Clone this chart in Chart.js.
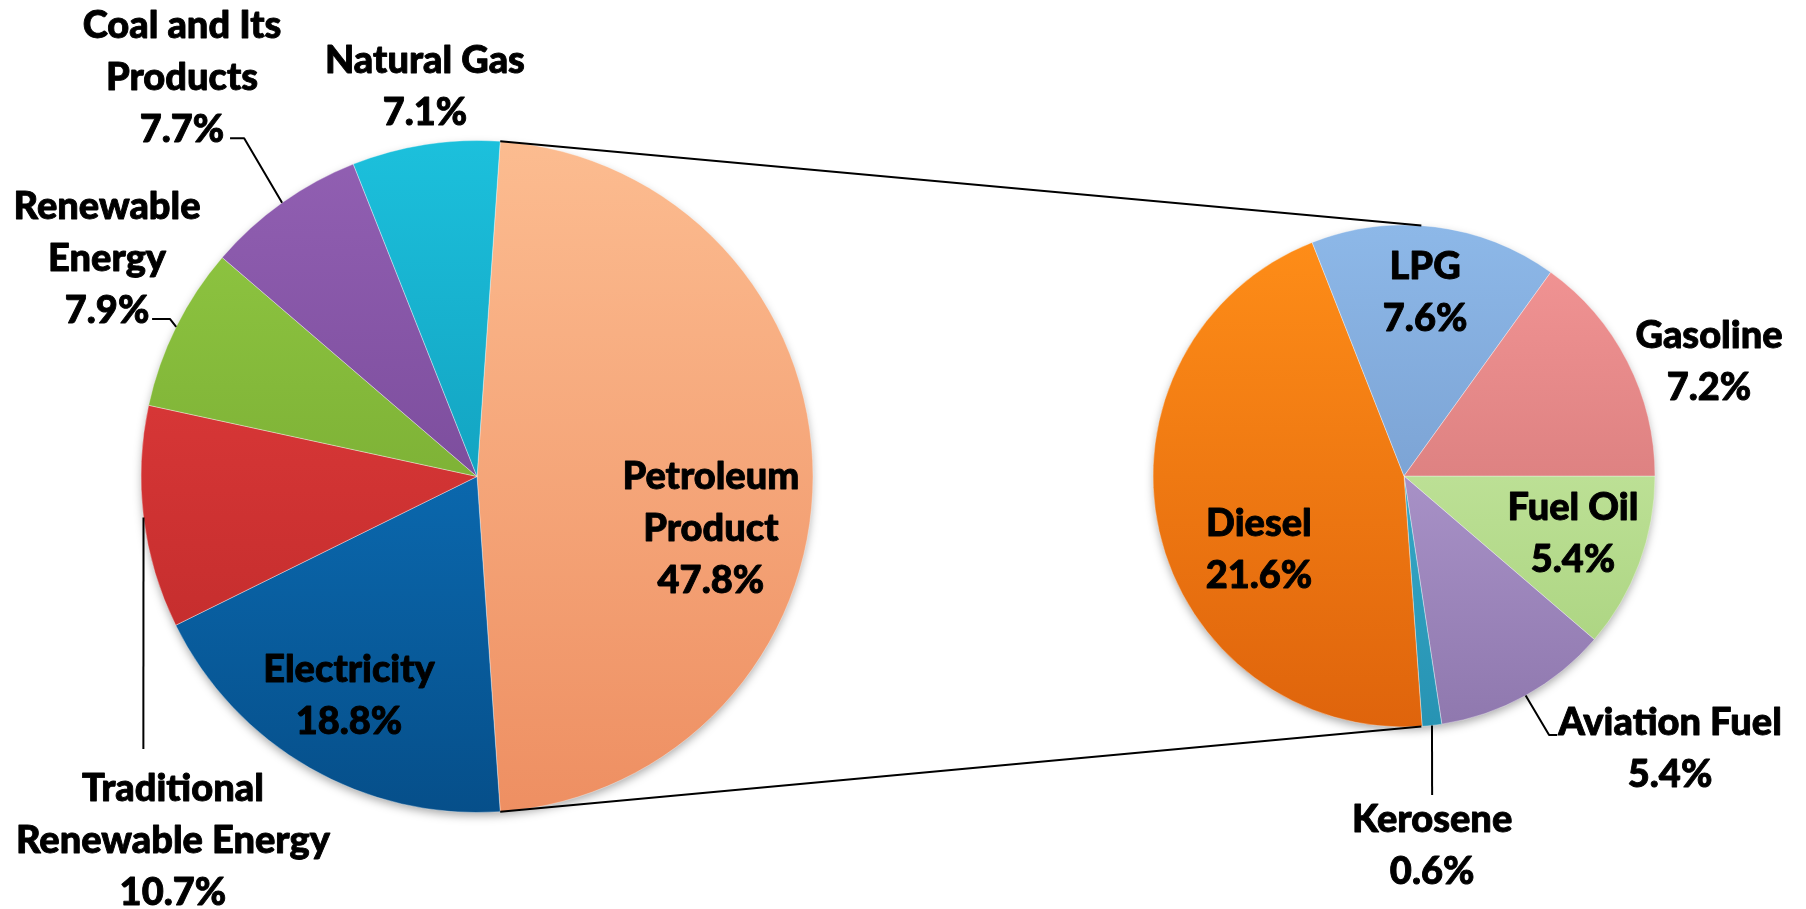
<!DOCTYPE html>
<html>
<head>
<meta charset="utf-8">
<script src="https://cdn.jsdelivr.net/npm/chart.js@4.4.1/dist/chart.umd.min.js"></script>
<style>
  html, body { margin: 0; padding: 0; background: #ffffff; }
  #wrap { position: relative; width: 1806px; height: 909px; }
  #wrap canvas { position: absolute; left: 0; top: 0; }
</style>
</head>
<body>
<div id="wrap">
  <canvas id="mainPie" width="1806" height="909"></canvas>
  <canvas id="subPie" width="1806" height="909"></canvas>
</div>
<script>
// ---------- DATA ----------
const mainCategories = [
  ['Petroleum', 'Product'],
  ['Electricity'],
  ['Traditional', 'Renewable Energy'],
  ['Renewable', 'Energy'],
  ['Coal and Its', 'Products'],
  ['Natural Gas']
];
const mainValues = [47.8, 18.8, 10.7, 7.9, 7.7, 7.1];

const subCategories = [
  ['Fuel Oil'],
  ['Aviation Fuel'],
  ['Kerosene'],
  ['Diesel'],
  ['LPG'],
  ['Gasoline']
];
const subValues = [5.4, 5.4, 0.6, 21.6, 7.6, 7.2];

// ---------- STYLE / LAYOUT ----------
const FONT = '900 38px Lato, "Open Sans", sans-serif';
const LINE_H = 52;

const mainColors = [
  ['#FCBC90', '#EE8F62'],
  ['#0F80D0', '#064F8A'],
  ['#EA4040', '#B82727'],
  ['#93CB44', '#6A9A29'],
  ['#9260B3', '#683C88'],
  ['#1CC0DC', '#0A88A8']
];
const subColors = [
  ['#D2F0B0', '#A6D07A'],
  ['#C0AADF', '#8F78AE'],
  ['#45BCD9', '#2793B3'],
  ['#FF8E18', '#DF640C'],
  ['#8DB8E8', '#6C90C2'],
  ['#F49696', '#C86E6E']
];

// label anchors, in units of the pie radius, relative to the pie centre
const mainLabelLayout = [
  { fx: 0.696, fy: 0.156 },
  { fx: -0.381, fy: 0.652 },
  { fx: -0.905, fy: 1.085, leader: [[-0.993, 0.811]] },
  { fx: -1.101, fy: -0.647, leader: [[-0.914, -0.469], [-0.967, -0.469]] },
  { fx: -0.878, fy: -1.186, leader: [[-0.693, -1.007], [-0.735, -1.007]] },
  { fx: -0.155, fy: -1.159 }
];
const subLabelLayout = [
  { fx: 0.673, fy: 0.229 },
  { fx: 1.060, fy: 1.088, leader: [[0.578, 1.032], [0.610, 1.032]] },
  { fx: 0.112, fy: 1.474, leader: [[0.112, 1.271]] },
  { fx: -0.578, fy: 0.295 },
  { fx: 0.084, fy: -0.729 },
  { fx: 1.215, fy: -0.454 }
];

const MAIN_RADIUS = 336;
const SUB_RADIUS = 251;

// ---------- HELPERS ----------
function gradientFill(colors) {
  return function (c) {
    const chart = c.chart;
    const area = chart.chartArea;
    const pair = colors[c.dataIndex % colors.length];
    if (!area) return pair[0];
    const cy = (area.top + area.bottom) / 2;
    const r = chart.options.radius;
    const g = chart.ctx.createLinearGradient(0, cy - r, 0, cy + r);
    g.addColorStop(0, pair[0]);
    g.addColorStop(1, pair[1]);
    return g;
  };
}

const shadowPlugin = {
  id: 'pieShadow',
  beforeDatasetsDraw(chart) {
    const arc = chart.getDatasetMeta(0).data[0];
    if (!arc) return;
    const ctx = chart.ctx;
    ctx.save();
    ctx.shadowColor = 'rgba(0,0,0,0.35)';
    ctx.shadowBlur = 10;
    ctx.shadowOffsetY = 4;
    ctx.beginPath();
    ctx.arc(arc.x, arc.y, arc.outerRadius - 1, 0, Math.PI * 2);
    ctx.fillStyle = '#ffffff';
    ctx.fill();
    ctx.restore();
  }
};

const labelPlugin = {
  id: 'sliceLabels',
  afterDatasetsDraw(chart, args, opts) {
    const meta = chart.getDatasetMeta(0);
    const ctx = chart.ctx;
    const labels = chart.data.labels;
    const values = chart.data.datasets[0].data;
    ctx.save();
    meta.data.forEach((arc, i) => {
      const L = opts.layout[i];
      const cx = arc.x, cy = arc.y, r = arc.outerRadius;
      if (L.leader) {
        const mid = (arc.startAngle + arc.endAngle) / 2;
        ctx.beginPath();
        ctx.moveTo(cx + Math.cos(mid) * r, cy + Math.sin(mid) * r);
        L.leader.forEach(p => ctx.lineTo(cx + p[0] * r, cy + p[1] * r));
        ctx.strokeStyle = '#000000';
        ctx.lineWidth = 2;
        ctx.stroke();
      }
      const lines = [].concat(labels[i], values[i].toFixed(1) + '%');
      const x = cx + L.fx * r;
      const y0 = cy + L.fy * r - (lines.length - 1) * LINE_H / 2;
      ctx.font = FONT;
      ctx.fillStyle = '#000000';
      ctx.strokeStyle = '#000000';
      ctx.lineWidth = 0.9;
      ctx.lineJoin = 'round';
      ctx.textAlign = 'center';
      ctx.textBaseline = 'middle';
      lines.forEach((t, k) => {
        ctx.fillText(t, x, y0 + k * LINE_H);
        ctx.strokeText(t, x, y0 + k * LINE_H);
      });
    });
    ctx.restore();
  }
};

// ---------- MAIN PIE ----------
const petroleumSweep = mainValues[0] / mainValues.reduce((a, b) => a + b, 0) * 360;

const mainChart = new Chart(document.getElementById('mainPie'), {
  type: 'pie',
  data: {
    labels: mainCategories,
    datasets: [{
      data: mainValues,
      backgroundColor: gradientFill(mainColors),
      borderColor: 'rgba(255,255,255,0.35)',
      borderWidth: 1
    }]
  },
  options: {
    responsive: false,
    animation: false,
    events: [],
    rotation: 90 - petroleumSweep / 2,
    radius: MAIN_RADIUS,
    layout: { padding: { left: 0, right: 852, top: 44, bottom: 0 } },
    plugins: {
      legend: { display: false },
      tooltip: { enabled: false },
      sliceLabels: { layout: mainLabelLayout }
    }
  },
  plugins: [shadowPlugin, labelPlugin]
});

// ---------- CONNECTOR LINES ----------
const connectorPlugin = {
  id: 'connectors',
  afterDraw(chart) {
    const src = mainChart.getDatasetMeta(0).data[0];
    const dst = chart.getDatasetMeta(0).data[0];
    if (!src || !dst) return;
    const ctx = chart.ctx;
    const angs = [src.startAngle, src.endAngle];
    ctx.save();
    ctx.strokeStyle = '#000000';
    ctx.lineWidth = 2;
    angs.forEach(a => {
      ctx.beginPath();
      ctx.moveTo(src.x + Math.cos(a) * src.outerRadius, src.y + Math.sin(a) * src.outerRadius);
      ctx.lineTo(dst.x + Math.cos(a) * dst.outerRadius, dst.y + Math.sin(a) * dst.outerRadius);
      ctx.stroke();
    });
    ctx.restore();
  }
};

// ---------- SECONDARY PIE ----------
new Chart(document.getElementById('subPie'), {
  type: 'pie',
  data: {
    labels: subCategories,
    datasets: [{
      data: subValues,
      backgroundColor: gradientFill(subColors),
      borderColor: 'rgba(255,255,255,0.35)',
      borderWidth: 1
    }]
  },
  options: {
    responsive: false,
    animation: false,
    events: [],
    rotation: 90,
    radius: SUB_RADIUS,
    layout: { padding: { left: 1002, right: 0, top: 43, bottom: 0 } },
    plugins: {
      legend: { display: false },
      tooltip: { enabled: false },
      sliceLabels: { layout: subLabelLayout }
    }
  },
  plugins: [shadowPlugin, labelPlugin, connectorPlugin]
});
</script>
</body>
</html>
